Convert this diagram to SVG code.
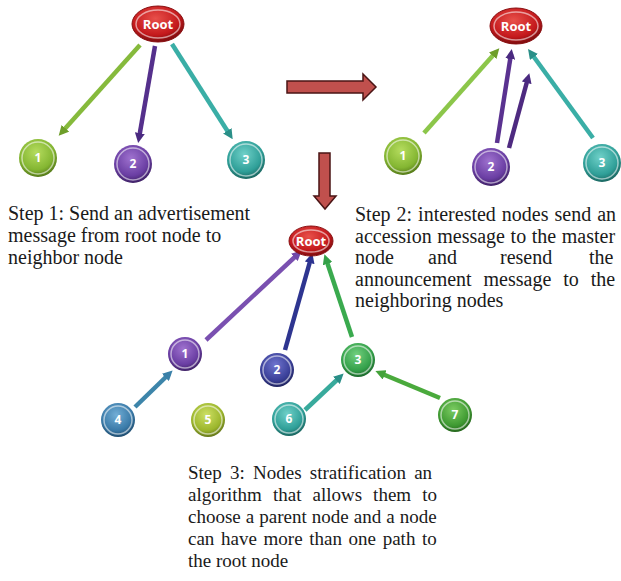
<svg xmlns="http://www.w3.org/2000/svg" width="621" height="581" viewBox="0 0 621 581">
<style>
.txt{font-family:"Liberation Serif","Times New Roman",serif;font-size:20px;fill:#1a1a1a}
.t3{font-size:19px}
.lbl{font-family:"Open Sans","Liberation Sans",Arial,sans-serif;font-weight:bold;fill:#fff;text-anchor:middle}
.num{font-size:12px}
.rt{font-size:13px}
.rim{fill:none;stroke:#fff;stroke-opacity:0.55;stroke-width:1.5}
.big{fill:#c0504d;stroke:#4a1515;stroke-width:1.5;stroke-linejoin:miter}
.ln{stroke-width:4.5;stroke-linecap:butt;fill:none}
</style>
<defs>
<radialGradient id="gRed" cx="0.45" cy="0.35" r="0.65"><stop offset="0" stop-color="#e8504a"/><stop offset="0.7" stop-color="#c4191c"/><stop offset="1" stop-color="#7a0c0e"/></radialGradient>
<radialGradient id="gLime" cx="0.45" cy="0.35" r="0.65"><stop offset="0" stop-color="#b5dc5e"/><stop offset="0.7" stop-color="#84b632"/><stop offset="1" stop-color="#557a18"/></radialGradient>
<radialGradient id="gPur" cx="0.45" cy="0.35" r="0.65"><stop offset="0" stop-color="#9f72cf"/><stop offset="0.7" stop-color="#6a3ea3"/><stop offset="1" stop-color="#3f2166"/></radialGradient>
<radialGradient id="gTeal" cx="0.45" cy="0.35" r="0.65"><stop offset="0" stop-color="#6fd0c8"/><stop offset="0.7" stop-color="#2f9f98"/><stop offset="1" stop-color="#1a6660"/></radialGradient>
<radialGradient id="gInd" cx="0.45" cy="0.35" r="0.65"><stop offset="0" stop-color="#6f75cf"/><stop offset="0.7" stop-color="#3a3f98"/><stop offset="1" stop-color="#202460"/></radialGradient>
<radialGradient id="gGrn" cx="0.45" cy="0.35" r="0.65"><stop offset="0" stop-color="#72d07f"/><stop offset="0.7" stop-color="#34a04a"/><stop offset="1" stop-color="#1c6a2c"/></radialGradient>
<radialGradient id="gSteel" cx="0.45" cy="0.35" r="0.65"><stop offset="0" stop-color="#72aed6"/><stop offset="0.7" stop-color="#3a7aa8"/><stop offset="1" stop-color="#1f4d70"/></radialGradient>
<radialGradient id="gYel" cx="0.45" cy="0.35" r="0.65"><stop offset="0" stop-color="#cde065"/><stop offset="0.7" stop-color="#9cb62c"/><stop offset="1" stop-color="#66781a"/></radialGradient>
<radialGradient id="gGrn2" cx="0.45" cy="0.35" r="0.65"><stop offset="0" stop-color="#7ccc62"/><stop offset="0.7" stop-color="#3f9a32"/><stop offset="1" stop-color="#25661c"/></radialGradient>
<marker id="mLime" markerUnits="userSpaceOnUse" markerWidth="10" markerHeight="10" refX="5" refY="5" orient="auto"><path d="M0,0 L10,5 L0,10 z" fill="#6e9e2a"/></marker>
<marker id="mPur" markerUnits="userSpaceOnUse" markerWidth="10" markerHeight="10" refX="5" refY="5" orient="auto"><path d="M0,0 L10,5 L0,10 z" fill="#4a2a80"/></marker>
<marker id="mTeal" markerUnits="userSpaceOnUse" markerWidth="10" markerHeight="10" refX="5" refY="5" orient="auto"><path d="M0,0 L10,5 L0,10 z" fill="#2a8f88"/></marker>
<marker id="mPur2" markerUnits="userSpaceOnUse" markerWidth="10" markerHeight="10" refX="5" refY="5" orient="auto"><path d="M0,0 L10,5 L0,10 z" fill="#7048a8"/></marker>
<marker id="mInd" markerUnits="userSpaceOnUse" markerWidth="10" markerHeight="10" refX="5" refY="5" orient="auto"><path d="M0,0 L10,5 L0,10 z" fill="#2c3290"/></marker>
<marker id="mGrn" markerUnits="userSpaceOnUse" markerWidth="10" markerHeight="10" refX="5" refY="5" orient="auto"><path d="M0,0 L10,5 L0,10 z" fill="#34a048"/></marker>
<marker id="mSteel" markerUnits="userSpaceOnUse" markerWidth="10" markerHeight="10" refX="5" refY="5" orient="auto"><path d="M0,0 L10,5 L0,10 z" fill="#3a80a8"/></marker>
<marker id="mGrn2" markerUnits="userSpaceOnUse" markerWidth="10" markerHeight="10" refX="5" refY="5" orient="auto"><path d="M0,0 L10,5 L0,10 z" fill="#44a23a"/></marker>
</defs>
<rect width="621" height="581" fill="#fff"/>

<g id="connectors">
  <!-- step 1 -->
  <line class="ln" x1="140" y1="45" x2="62" y2="132" stroke="#86ba3c" marker-end="url(#mLime)"/>
  <line class="ln" x1="155" y1="46" x2="139" y2="138" stroke="#55308c" marker-end="url(#mPur)"/>
  <line class="ln" x1="172" y1="44" x2="230" y2="135" stroke="#3aaea6" marker-end="url(#mTeal)"/>
  <!-- step 2 -->
  <line class="ln" x1="424" y1="133" x2="496" y2="52" stroke="#8cc64a" marker-end="url(#mLime)"/>
  <line class="ln" x1="497" y1="143" x2="511" y2="54" stroke="#5a3290" marker-end="url(#mPur)"/>
  <line class="ln" x1="509" y1="148" x2="528" y2="78" stroke="#4e2a80" marker-end="url(#mPur)"/>
  <line class="ln" x1="593" y1="138" x2="531" y2="53" stroke="#3aaea6" marker-end="url(#mTeal)"/>
  <!-- step 3 -->
  <line class="ln" x1="206" y1="340" x2="298" y2="254" stroke="#7a50b0" marker-end="url(#mPur2)"/>
  <line class="ln" x1="285" y1="350" x2="311" y2="258" stroke="#2e3590" marker-end="url(#mInd)"/>
  <line class="ln" x1="352" y1="337" x2="326" y2="259" stroke="#3aaa4e" marker-end="url(#mGrn)"/>
  <line class="ln" x1="135" y1="407" x2="169" y2="374" stroke="#3d85aa" marker-end="url(#mSteel)"/>
  <line class="ln" x1="305" y1="410" x2="340" y2="377" stroke="#38aa9c" marker-end="url(#mTeal)"/>
  <line class="ln" x1="440" y1="398" x2="380" y2="373" stroke="#4aaa3c" marker-end="url(#mGrn2)"/>
  <!-- big arrows -->
  <polygon class="big" points="287,81 363,81 363,74 376,87 363,100 363,93 287,93"/>
  <polygon class="big" points="319,153 330,153 330,196 336,196 325,209 314,196 319,196"/>
</g>

<!-- step 1 nodes -->
<g id="s1-root"><ellipse cx="158" cy="24" rx="26" ry="18" fill="url(#gRed)" stroke="#8a1012" stroke-width="1"/><ellipse cx="158" cy="24" rx="22" ry="14" class="rim"/><text class="lbl rt" x="158" y="29">Root</text></g>
<g id="s1-n1"><circle cx="38" cy="158" r="19" fill="url(#gLime)"/><circle cx="38" cy="158" r="16" class="rim"/><text class="lbl num" x="38" y="162">1</text></g>
<g id="s1-n2"><circle cx="133" cy="164" r="19" fill="url(#gPur)"/><circle cx="133" cy="164" r="16" class="rim"/><text class="lbl num" x="133" y="168">2</text></g>
<g id="s1-n3"><circle cx="246" cy="160" r="19" fill="url(#gTeal)"/><circle cx="246" cy="160" r="16" class="rim"/><text class="lbl num" x="246" y="164">3</text></g>

<!-- step 2 nodes -->
<g id="s2-root"><ellipse cx="516" cy="26" rx="26" ry="18" fill="url(#gRed)" stroke="#8a1012" stroke-width="1"/><ellipse cx="516" cy="26" rx="22" ry="14" class="rim"/><text class="lbl rt" x="516" y="31">Root</text></g>
<g id="s2-n1"><circle cx="403" cy="156" r="19" fill="url(#gLime)"/><circle cx="403" cy="156" r="16" class="rim"/><text class="lbl num" x="403" y="160">1</text></g>
<g id="s2-n2"><circle cx="491" cy="167" r="19" fill="url(#gPur)"/><circle cx="491" cy="167" r="16" class="rim"/><text class="lbl num" x="491" y="171">2</text></g>
<g id="s2-n3"><circle cx="602" cy="163" r="19" fill="url(#gTeal)"/><circle cx="602" cy="163" r="16" class="rim"/><text class="lbl num" x="602" y="167">3</text></g>

<!-- step 3 nodes -->
<g id="s3-root"><ellipse cx="311" cy="241" rx="22" ry="15" fill="url(#gRed)" stroke="#8a1012" stroke-width="1"/><ellipse cx="311" cy="241" rx="18" ry="11" class="rim"/><text class="lbl rt" x="311" y="246">Root</text></g>
<g id="s3-n1"><circle cx="185" cy="354" r="17" fill="url(#gPur)"/><circle cx="185" cy="354" r="14" class="rim"/><text class="lbl num" x="185" y="358">1</text></g>
<g id="s3-n2"><circle cx="277" cy="370" r="17" fill="url(#gInd)"/><circle cx="277" cy="370" r="14" class="rim"/><text class="lbl num" x="277" y="374">2</text></g>
<g id="s3-n3"><circle cx="358" cy="360" r="17" fill="url(#gGrn)"/><circle cx="358" cy="360" r="14" class="rim"/><text class="lbl num" x="358" y="364">3</text></g>
<g id="s3-n4"><circle cx="118" cy="420" r="17" fill="url(#gSteel)"/><circle cx="118" cy="420" r="14" class="rim"/><text class="lbl num" x="118" y="424">4</text></g>
<g id="s3-n5"><circle cx="208" cy="420" r="17" fill="url(#gYel)"/><circle cx="208" cy="420" r="14" class="rim"/><text class="lbl num" x="208" y="424">5</text></g>
<g id="s3-n6"><circle cx="289" cy="419" r="17" fill="url(#gTeal)"/><circle cx="289" cy="419" r="14" class="rim"/><text class="lbl num" x="289" y="423">6</text></g>
<g id="s3-n7"><circle cx="455" cy="415" r="17" fill="url(#gGrn2)"/><circle cx="455" cy="415" r="14" class="rim"/><text class="lbl num" x="455" y="419">7</text></g>

<!-- captions -->
<g id="step1-text" class="txt">
  <text x="8" y="220">Step 1: Send an advertisement</text>
  <text x="8" y="242">message  from root node to</text>
  <text x="8" y="264">neighbor node</text>
</g>
<g id="step2-text" class="txt">
  <text x="355" y="221" word-spacing="1">Step 2: interested nodes send an</text>
  <text x="355" y="242.5" word-spacing="0.6">accession message to the master</text>
  <text y="264"><tspan x="355">node</tspan><tspan x="428">and</tspan><tspan x="500">resend</tspan><tspan x="589">the</tspan></text>
  <text x="355" y="285.5" word-spacing="6.9">announcement message to the</text>
  <text x="355" y="307">neighboring nodes</text>
</g>
<g id="step3-text" class="txt t3">
  <text x="188" y="479" word-spacing="3.5">Step 3: Nodes stratification an</text>
  <text x="188" y="501" word-spacing="6.3">algorithm that allows them to</text>
  <text x="188" y="523" word-spacing="0.3">choose a parent node and a node</text>
  <text x="188" y="545" word-spacing="1.9">can have more than one path to</text>
  <text x="188" y="567">the root node</text>
</g>
</svg>
